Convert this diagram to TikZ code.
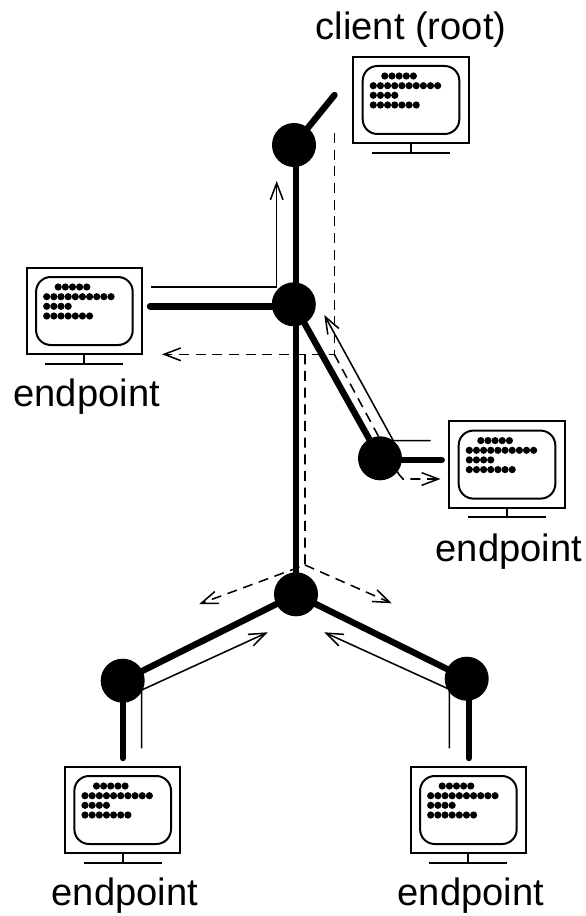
\documentclass[tikz,border=0pt]{standalone}
\usepackage{fontspec}
\setmainfont{Liberation Sans}
\usetikzlibrary{arrows.meta}
\tikzset{
  hub/.style={circle,fill=black,inner sep=0pt,minimum size=33pt},
  label text/.style={anchor=base,inner sep=0pt,font=\fontsize{28.6pt}{30pt}\selectfont},
  trunk/.style={line width=4.8pt,line cap=round},
  thinflow/.style={line width=1.15pt,-{Straight Barb[length=12.5pt,width=9.5pt,line width=1.15pt]}},
  dashflow/.style={line width=1.15pt,dash pattern=on 7.5pt off 5pt},
  dasharrow/.style={dashflow,-{Straight Barb[length=12.5pt,width=9.5pt,line width=1.15pt]}},
  monitor/.style={line width=1.5pt},
  screendot/.style={fill=black}
}
\newcommand{\termrow}[4]{% x0, y, first dx, count
  \foreach \k in {1,...,#4}{
    \fill[screendot] ({#1+#3+(\k-1)*7.15},#2) circle[radius=3.6];
  }
}
\newcommand{\terminal}[2]{%
  \begin{scope}[shift={(#1,#2)}]
    \draw[monitor] (0,0) rectangle (115.4,86.6);
    \draw[monitor,rounded corners=11pt] (9.4,9.3) rectangle (106,77.3);
    \draw[monitor] (57.7,86.6) -- (57.7,96) (18.7,96) -- (96.7,96);
    \termrow{0}{19.3}{31.5}{5}
    \termrow{0}{29}{20}{10}
    \termrow{0}{38.6}{20}{4}
    \termrow{0}{48.3}{20}{7}
  \end{scope}
}
\begin{document}
\begin{tikzpicture}[x=0.75pt,y=-0.75pt]
\useasboundingbox (0,0) rectangle (585,916);
\terminal{353.3}{56.7}
\terminal{26.7}{267.7}
\terminal{449.3}{421.3}
\terminal{65}{766.7}
\terminal{410.7}{766.7}

\node[label text] (lroot) at (411,39.3) {client (root)};
\node[label text] (lleft) at (86.7,406.7) {endpoint};
\node[label text] (lright) at (508.8,561) {endpoint};
\node[label text] (lbl) at (124.8,905) {endpoint};
\node[label text] (lbr) at (470.8,905) {endpoint};

\coordinate (s1) at (295.7,145);
\coordinate (s4) at (295.7,594);
\coordinate (c0) at (334.5,95);
\coordinate (e2a) at (293.8,306.3);
\coordinate (e2) at (150,306.3);
\coordinate (e3a) at (380,460);
\coordinate (e3) at (441.7,460);
\coordinate (e5) at (122.7,758);
\coordinate (e6a) at (468.7,680);
\coordinate (e6) at (468.7,758);
\coordinate (h1) at (294,145);
\coordinate (h2) at (293.8,304.3);
\coordinate (h3) at (380,458.3);
\coordinate (h4) at (296,594.3);
\coordinate (h5) at (122.7,680.7);
\coordinate (h6) at (466.7,678.7);

% thin flows
\coordinate (a1) at (151,287);
\coordinate (a2) at (276.7,287);
\coordinate (a3) at (276.7,181);
\draw[thinflow] (a1) -- (a2) -- (a3);
\coordinate (b1) at (430.7,440.7);
\coordinate (b2) at (393.3,440.7);
\coordinate (b3) at (324.3,315);
\draw[thinflow] (b1) -- (b2) -- (b3);
\coordinate (d1) at (141.7,748.3);
\coordinate (d2) at (141.7,690);
\coordinate (d3) at (267.7,632.3);
\draw[thinflow] (d1) -- (d2) -- (d3);
\coordinate (f1) at (449.3,748.3);
\coordinate (f2) at (449.3,689.3);
\coordinate (f3) at (324.3,632.3);
\draw[thinflow] (f1) -- (f2) -- (f3);

% dashed flows
\coordinate (g1) at (334.3,133);
\coordinate (g2) at (334.3,354.3);
\coordinate (g3) at (162,354.3);
\draw[dasharrow] (g1) -- (g2) -- (g3);
\coordinate (g4) at (305,354.3);
\coordinate (g5) at (305,565);
\coordinate (g6) at (199.3,604);
\coordinate (g7) at (391.7,603.3);
\draw[dasharrow] (g4) -- (g5) -- (g6);
\draw[dasharrow] (g5) -- (g7);
\coordinate (g8) at (399,474.5);
\coordinate (g8b) at (403,479);
\coordinate (g9) at (440.5,479);
\draw[dasharrow] (g2) -- (g8) -- (g8b) -- (g9);

% trunks
\draw[trunk] (s1) -- (s4);
\draw[trunk] (h1) -- (c0);
\draw[trunk] (e2a) -- (e2);
\draw[trunk] (h2) -- (h3);
\draw[trunk] (e3a) -- (e3);
\draw[trunk] (h4) -- (h5);
\draw[trunk] (h4) -- (h6);
\draw[trunk] (h5) -- (e5);
\draw[trunk] (e6a) -- (e6);

\node[hub] (n1) at (h1) {};
\node[hub] (n2) at (h2) {};
\node[hub] (n3) at (h3) {};
\node[hub] (n4) at (h4) {};
\node[hub] (n5) at (h5) {};
\node[hub] (n6) at (h6) {};
\end{tikzpicture}
\end{document}
